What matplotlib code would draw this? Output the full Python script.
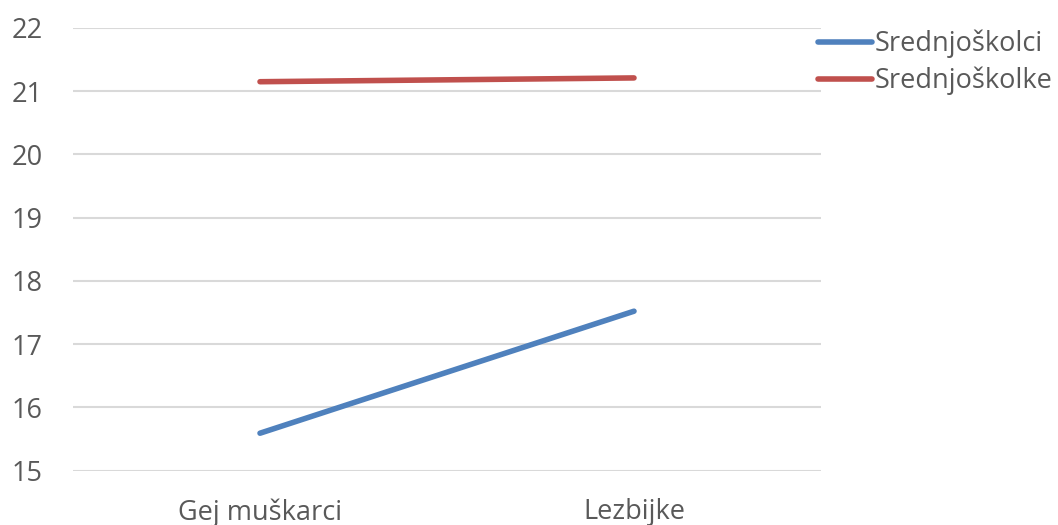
import matplotlib.pyplot as plt

categories = ["Gej muškarci", "Lezbijke"]
srednjoskolci = [15.59, 17.52]
srednjoskolke = [21.15, 21.21]
series_names = ["Srednjoškolci", "Srednjoškolke"]

plt.rcParams["font.family"] = ["Open Sans", "DejaVu Sans"]
text_color = "#595959"

fig = plt.figure(figsize=(10.58, 5.25), dpi=100)
ax = fig.add_axes([0.069, 0.1038, 0.707, 0.8429])

x = range(len(categories))
ax.plot(x, srednjoskolci, color="#4F81BD", lw=4, solid_capstyle="round", label=series_names[0])
ax.plot(x, srednjoskolke, color="#C0504D", lw=4, solid_capstyle="round", label=series_names[1])

ax.set_xlim(-0.5, 1.5)
ax.set_ylim(15, 22)
ax.set_yticks(range(15, 23))
ax.set_xticks(list(x))
ax.set_xticklabels(categories)
ax.grid(axis="y", color="#d9d9d9", lw=1.5)
ax.set_axisbelow(True)
for s in ax.spines.values():
    s.set_visible(False)
ax.tick_params(length=0, labelsize=19.5, colors=text_color)
ax.tick_params(axis="x", pad=20)
ax.tick_params(axis="y", pad=44)
for lbl in ax.get_yticklabels():
    lbl.set_horizontalalignment("left")

fig.legend(loc="upper left", bbox_to_anchor=(0.773, 0.943), frameon=False,
           fontsize=19.5, labelcolor=text_color, handlelength=2.0,
           handletextpad=0.08, labelspacing=0.3, borderaxespad=0,
           borderpad=0)

fig.savefig("out.png", dpi=100)
